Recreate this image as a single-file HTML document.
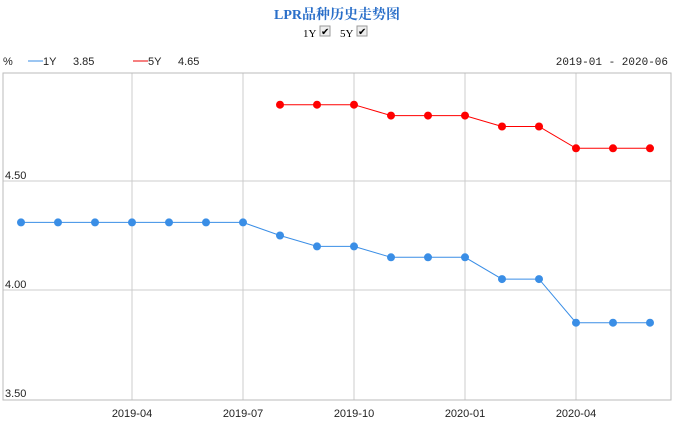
<!DOCTYPE html>
<html><head><meta charset="utf-8"><style>
body{margin:0;width:675px;height:424px;background:#fff;overflow:hidden;font-family:"Liberation Sans","Noto Sans CJK SC",sans-serif;}
svg{position:absolute;left:0;top:0}
</style></head><body>
<svg width="675" height="424">
<text x="337" y="19" text-anchor="middle" font-size="14" font-weight="bold" fill="#2a6fc9" font-family="Liberation Serif,'Noto Serif CJK SC',serif">LPR品种历史走势图</text>
<g font-size="11" font-family="Liberation Serif,serif">
<text x="303" y="37">1Y</text>
<rect x="320" y="26" width="10" height="10" fill="#eee" stroke="#999"/>
<text x="321" y="35" font-size="10">✔</text>
<text x="340" y="37">5Y</text>
<rect x="357" y="26" width="10" height="10" fill="#eee" stroke="#999"/>
<text x="358" y="35" font-size="10">✔</text>
</g>
<g font-size="11" fill="#222">
<text x="3" y="65">%</text>
<line x1="28" y1="61" x2="43" y2="61" stroke="#3a8ee6"/>
<text x="43" y="65">1Y</text>
<text x="73" y="65">3.85</text>
<line x1="133" y1="61" x2="148" y2="61" stroke="#e00"/>
<text x="148" y="65">5Y</text>
<text x="178" y="65">4.65</text>
<text x="668" y="65" text-anchor="end" font-family="Liberation Mono,monospace">2019-01 - 2020-06</text>
</g>
<g id="grid"></g>
<rect x="3" y="73" width="668" height="327" fill="none" stroke="#bbb"/>
<g id="marks"></g>
</svg>
<script>
const months=["2019-01","2019-02","2019-03","2019-04","2019-05","2019-06","2019-07","2019-08","2019-09","2019-10","2019-11","2019-12","2020-01","2020-02","2020-03","2020-04","2020-05","2020-06"];
const rate1Y=[4.31,4.31,4.31,4.31,4.31,4.31,4.31,4.25,4.20,4.20,4.15,4.15,4.15,4.05,4.05,3.85,3.85,3.85];
const rate5Y=[null,null,null,null,null,null,null,4.85,4.85,4.85,4.80,4.80,4.80,4.75,4.75,4.65,4.65,4.65];
const yTicks=[3.5,4.0,4.5];
const xTicks=["2019-04","2019-07","2019-10","2020-01","2020-04"];
const NS="http://www.w3.org/2000/svg";
const X=i=>21+i*(650-21)/(months.length-1);
const Y=v=>399-(v-3.5)*218;
const grid=document.getElementById('grid'),marks=document.getElementById('marks');
function mk(tag,attrs,parent){const e=document.createElementNS(NS,tag);for(const k in attrs)e.setAttribute(k,attrs[k]);parent.appendChild(e);return e;}
yTicks.forEach(v=>{
 const y=Y(v);
 if(v>3.5){const l=mk('line',{x1:3,x2:671,y1:y,y2:y,stroke:'#ccc'},grid);
 
 }
 const t=mk('text',{x:5,y:y-2,'font-size':11,fill:'#222'},grid);t.textContent=v.toFixed(2);
 
 
});
xTicks.forEach(m=>{
 const x=X(months.indexOf(m));
 const l=mk('line',{x1:x,x2:x,y1:73,y2:400,stroke:'#ccc'},grid);
 
 
 const t=mk('text',{x:x,y:417,'font-size':11,fill:'#222','text-anchor':'middle'},grid);t.textContent=m;
 
 
});
function series(data,color,name){
 const pts=[];data.forEach((v,i)=>{if(v!=null)pts.push([X(i),Y(v)]);});
 const p=mk('polyline',{points:pts.map(p=>p.join(',')).join(' '),fill:'none',stroke:color,'stroke-width':1},marks);
 
 
 pts.forEach(q=>{const c=mk('circle',{cx:q[0],cy:q[1],r:4,fill:color},marks);
 
 });
}
series(rate1Y,'#3a8ee6','series-1y');
series(rate5Y,'#f00','series-5y');
</script>
</body></html>
